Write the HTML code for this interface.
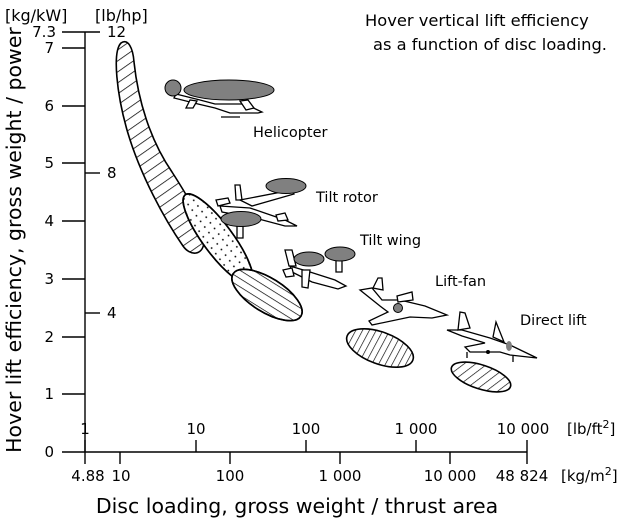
<!DOCTYPE html>
<html><head><meta charset="utf-8"><style>
html,body{margin:0;padding:0;background:#fff}
svg{display:block}
text{font-family:"DejaVu Sans","Liberation Sans",sans-serif;fill:#000}
</style></head><body>
<svg width="623" height="519" viewBox="0 0 623 519" xmlns="http://www.w3.org/2000/svg">
<defs>
<pattern id="diag" width="9" height="9" patternUnits="userSpaceOnUse" patternTransform="rotate(-35)"><line x1="0" y1="0" x2="9" y2="0" stroke="#000" stroke-width="1.5"/></pattern>
<pattern id="hor" width="7" height="7" patternUnits="userSpaceOnUse"><line x1="0" y1="0" x2="7" y2="0" stroke="#000" stroke-width="1.4"/></pattern>
<pattern id="vert" width="6" height="6" patternUnits="userSpaceOnUse" patternTransform="rotate(8)"><line x1="0" y1="0" x2="0" y2="6" stroke="#000" stroke-width="1.3"/></pattern>
<pattern id="diag2" width="7" height="7" patternUnits="userSpaceOnUse" patternTransform="rotate(35)"><line x1="0" y1="0" x2="0" y2="7" stroke="#000" stroke-width="1.3"/></pattern>
<pattern id="dots" width="7" height="7" patternUnits="userSpaceOnUse"><circle cx="3.5" cy="3.5" r="0.9" fill="#000"/></pattern>
</defs>

<text x="365" y="26" font-size="16.3">Hover vertical lift efficiency</text>
<text x="373" y="50" font-size="16.3">as a function of disc loading.</text>
<text x="5" y="21" font-size="16">[kg/kW]</text>
<text x="95" y="21" font-size="16">[lb/hp]</text>
<text transform="translate(21,240) rotate(-90)" font-size="20.5" text-anchor="middle">Hover lift efficiency, gross weight / power</text>
<text x="297" y="513" font-size="20.5" text-anchor="middle">Disc loading, gross weight / thrust area</text>

<g stroke="#000" stroke-width="1.4">
<line x1="85" y1="32" x2="85" y2="452"/>
<line x1="62" y1="32" x2="100" y2="32"/>
<line x1="62" y1="48" x2="85" y2="48"/>
<line x1="62" y1="106" x2="85" y2="106"/>
<line x1="62" y1="163" x2="85" y2="163"/>
<line x1="62" y1="221" x2="85" y2="221"/>
<line x1="62" y1="279" x2="85" y2="279"/>
<line x1="62" y1="337" x2="85" y2="337"/>
<line x1="62" y1="394" x2="85" y2="394"/>
<line x1="85" y1="173" x2="100" y2="173"/>
<line x1="85" y1="313" x2="100" y2="313"/>
<line x1="62" y1="452" x2="527" y2="452"/>
<line x1="85" y1="440" x2="85" y2="464"/>
<line x1="196" y1="440" x2="196" y2="452"/>
<line x1="306" y1="440" x2="306" y2="452"/>
<line x1="416" y1="440" x2="416" y2="452"/>
<line x1="527" y1="440" x2="527" y2="464"/>
<line x1="120" y1="452" x2="120" y2="464"/>
<line x1="230" y1="452" x2="230" y2="464"/>
<line x1="340" y1="452" x2="340" y2="464"/>
<line x1="450" y1="452" x2="450" y2="464"/>
</g>
<g font-size="15">
<text x="56" y="37" text-anchor="end">7.3</text>
<text x="54" y="53" text-anchor="end">7</text>
<text x="54" y="111" text-anchor="end">6</text>
<text x="54" y="168" text-anchor="end">5</text>
<text x="54" y="226" text-anchor="end">4</text>
<text x="54" y="284" text-anchor="end">3</text>
<text x="54" y="342" text-anchor="end">2</text>
<text x="54" y="399" text-anchor="end">1</text>
<text x="54" y="457" text-anchor="end">0</text>
<text x="107" y="37">12</text>
<text x="107" y="178">8</text>
<text x="107" y="318">4</text>
<text x="85" y="434" text-anchor="middle">1</text>
<text x="196" y="434" text-anchor="middle">10</text>
<text x="306" y="434" text-anchor="middle">100</text>
<text x="416" y="434" text-anchor="middle">1 000</text>
<text x="523" y="434" text-anchor="middle">10 000</text>
<text x="567" y="434">[lb/ft<tspan font-size="11" dy="-6">2</tspan><tspan dy="6">]</tspan></text>
<text x="88" y="481" text-anchor="middle">4.88</text>
<text x="121" y="481" text-anchor="middle">10</text>
<text x="230" y="481" text-anchor="middle">100</text>
<text x="340" y="481" text-anchor="middle">1 000</text>
<text x="450" y="481" text-anchor="middle">10 000</text>
<text x="522" y="481" text-anchor="middle">48 824</text>
<text x="561" y="481">[kg/m<tspan font-size="11" dy="-6">2</tspan><tspan dy="6">]</tspan></text>
</g>

<g stroke="#000" stroke-width="1.6">
<path d="M121,43 C128,38 133,48 134,62 C138,100 150,140 172,172 C190,200 205,225 204,243 C202,256 190,256 183,246 C165,220 140,175 127,130 C117,95 112,52 121,43 Z" fill="url(#diag)"/>
<g transform="translate(218,239) rotate(53.5)"><ellipse rx="55" ry="15" fill="#fff"/><ellipse rx="55" ry="15" fill="url(#dots)"/></g>
<g transform="translate(267,295) rotate(32)"><ellipse rx="40" ry="17" fill="#fff"/><ellipse rx="40" ry="17" fill="url(#hor)"/></g>
<g transform="translate(380,348) rotate(20)"><ellipse rx="35" ry="16" fill="url(#vert)"/></g>
<g transform="translate(481,377) rotate(18)"><ellipse rx="31" ry="12" fill="url(#diag2)"/></g>
</g>

<g stroke="#000" stroke-width="1.3" fill="#fff">
<path d="M176,94 L200,100 L215,104 L245,104 L262,112 L258,113 L230,113 L215,108 L198,104 L174,98 Z"/>
<path d="M190,100 L186,108 L193,108 L197,101 Z"/>
<line x1="221" y1="117" x2="240" y2="117"/>
<path d="M240,101 L248,100 L254,108 L246,110 Z"/>
</g>
<circle cx="173" cy="88" r="8" fill="#808080" stroke="#000"/>
<ellipse cx="229" cy="90" rx="45" ry="10" fill="#808080" stroke="#000"/>
<text x="253" y="137" font-size="14.5">Helicopter</text>

<g stroke="#000" stroke-width="1.3" fill="#fff">
<path d="M220,206 L250,208 L285,220 L297,226 L285,226 L255,218 L222,212 Z"/>
<path d="M235,185 L240,185 L242,200 L236,200 Z"/>
<path d="M216,200 L228,198 L230,203 L218,206 Z"/>
<path d="M240,200 L292,190 L294,194 L252,206 Z"/>
<path d="M237,224 L243,224 L243,238 L237,238 Z"/>
<path d="M276,215 L285,213 L288,220 L278,221 Z"/>
</g>
<ellipse cx="286" cy="186" rx="20" ry="7.5" fill="#808080" stroke="#000"/>
<ellipse cx="241" cy="219" rx="20" ry="7.5" fill="#808080" stroke="#000"/>
<text x="316" y="202" font-size="14.5">Tilt rotor</text>

<g stroke="#000" stroke-width="1.3" fill="#fff">
<path d="M290,266 L310,272 L335,280 L346,286 L338,289 L312,282 L292,272 Z"/>
<path d="M285,250 L292,250 L296,266 L289,266 Z"/>
<path d="M283,270 L292,268 L294,276 L286,277 Z"/>
<path d="M302,270 L310,270 L308,288 L302,287 Z"/>
<path d="M336,260 L342,260 L342,272 L336,272 Z"/>
</g>
<ellipse cx="309" cy="259" rx="15" ry="7" fill="#808080" stroke="#000"/>
<ellipse cx="340" cy="254" rx="15" ry="7" fill="#808080" stroke="#000"/>
<text x="360" y="245" font-size="14.5">Tilt wing</text>

<g stroke="#000" stroke-width="1.3" fill="#fff">
<path d="M360,290 L372,288 L382,300 L400,300 L425,306 L447,315 L432,318 L410,317 L372,325 L369,321 L388,312 L380,306 Z"/>
<path d="M373,288 L378,278 L382,278 L383,290 Z"/>
<path d="M397,296 L412,292 L413,300 L398,302 Z"/>
</g>
<circle cx="398" cy="308" r="4.5" fill="#808080" stroke="#000"/>
<text x="435" y="286" font-size="14.5">Lift-fan</text>

<g stroke="#000" stroke-width="1.3" fill="#fff">
<path d="M447,330 L462,330 L490,338 L510,345 L537,358 L510,355 L500,352 L470,352 L465,347 L485,343 L462,336 Z"/>
<path d="M458,330 L460,312 L465,313 L470,328 Z"/>
<path d="M493,337 L496,322 L504,342 Z"/>
<line x1="467" y1="352" x2="467" y2="358"/><line x1="513" y1="356" x2="513" y2="362"/>
</g>
<circle cx="488" cy="352" r="2" fill="#000"/>
<ellipse cx="509" cy="346" rx="3" ry="5" fill="#808080"/>
<text x="520" y="325" font-size="14.5">Direct lift</text>
</svg>
</body></html>
